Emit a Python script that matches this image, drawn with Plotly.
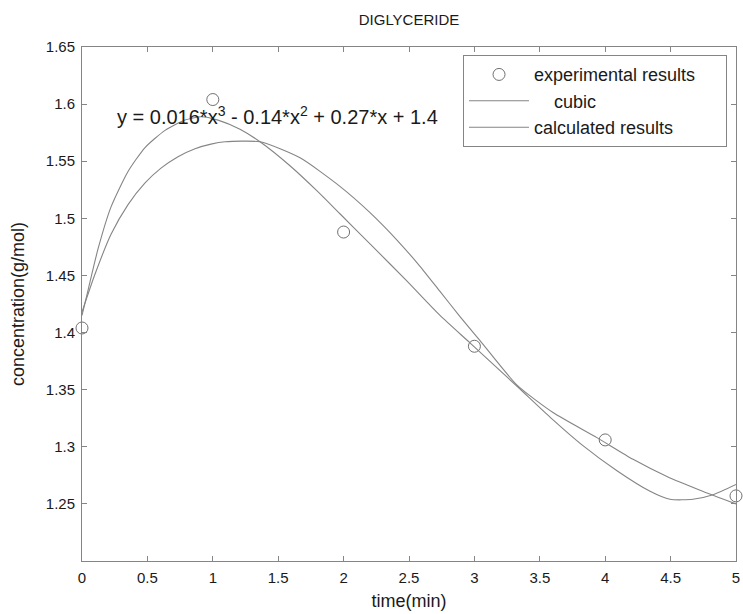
import plotly.graph_objects as go

# experimental points
time_exp = [0, 1, 2, 3, 4, 5]
conc_exp = [1.404, 1.604, 1.488, 1.388, 1.306, 1.257]

# cubic fit curve
time_cubic = [0, 0.046, 0.122, 0.222, 0.352, 0.482, 0.635, 0.787, 0.91, 1.04,
              1.208, 1.361, 1.59, 1.797, 1.972, 2.225, 2.485, 2.737, 2.966,
              3.326, 3.578, 3.83, 4.09, 4.343, 4.495, 4.671, 4.824, 5.0]
conc_cubic = [1.415, 1.437, 1.473, 1.510, 1.541, 1.562, 1.577, 1.586, 1.589, 1.586,
              1.578, 1.567, 1.546, 1.524, 1.504, 1.475, 1.445, 1.415, 1.391,
              1.353, 1.326, 1.301, 1.279, 1.261, 1.254, 1.254, 1.258, 1.267]

# calculated (model) curve
time_calc = [0, 0.099, 0.222, 0.352, 0.482, 0.604, 0.734, 0.864, 0.986, 1.093,
             1.361, 1.667, 1.972, 2.202, 2.408, 2.584, 2.737, 2.89, 3.043,
             3.326, 3.601, 3.937, 4.213, 4.472, 4.725, 5.0]
conc_calc = [1.418, 1.451, 1.486, 1.512, 1.531, 1.544, 1.554, 1.561, 1.565, 1.567,
             1.567, 1.553, 1.528, 1.505, 1.481, 1.458, 1.436, 1.414, 1.393,
             1.354, 1.330, 1.308, 1.289, 1.274, 1.262, 1.250]

x_ticks = [0, 0.5, 1, 1.5, 2, 2.5, 3, 3.5, 4, 4.5, 5]
y_ticks = [1.25, 1.3, 1.35, 1.4, 1.45, 1.5, 1.55, 1.6, 1.65]

font = "Liberation Sans, Arial, sans-serif"
gray = "#858585"
nb = "\u00a0"

fig = go.Figure()
fig.add_trace(go.Scatter(x=time_exp, y=conc_exp, mode="markers",
                         name="experimental results" + nb * 5,
                         marker=dict(symbol="circle-open", size=12, color="#707070", line=dict(width=1)),
                         cliponaxis=False, legendgroup="a"))
fig.add_trace(go.Scatter(x=time_cubic, y=conc_cubic, mode="lines", name=nb * 4 + "cubic",
                         line=dict(color=gray, width=1.1, shape="spline", smoothing=0.6),
                         legendgroup="b"))
fig.add_trace(go.Scatter(x=time_calc, y=conc_calc, mode="lines", name="calculated results",
                         line=dict(color=gray, width=1.1, shape="spline", smoothing=0.6),
                         legendgroup="c"))

fig.add_annotation(x=0.25, y=1.59, xref="x", yref="y", xanchor="left", yanchor="middle",
                   text="y = 0.016*x<sup>3</sup> - 0.14*x<sup>2</sup> + 0.27*x + 1.4",
                   showarrow=False, font=dict(size=20, color="#1a1a1a"))

axis_style = dict(showline=True, linecolor=gray, linewidth=1, mirror="ticks", ticks="inside",
                  ticklen=5, tickcolor=gray, showgrid=False, zeroline=False, automargin=False,
                  ticklabeloverflow="allow", ticklabelstandoff=3,
                  tickfont=dict(size=15, color="#1a1a1a"))

fig.update_xaxes(range=[0, 5], tickvals=x_ticks, ticktext=[f"{v:g}" for v in x_ticks],
                 title=dict(text="time(min)", font=dict(size=18, color="#1a1a1a"), standoff=9),
                 **axis_style)
fig.update_yaxes(range=[1.2, 1.65], tickvals=y_ticks, ticktext=[f"{v:g}" for v in y_ticks],
                 title=dict(text="concentration(g/mol)", font=dict(size=18, color="#1a1a1a"), standoff=16),
                 **axis_style)

fig.update_layout(
    width=743, height=614,
    margin=dict(l=82, r=7, t=47, b=53),
    paper_bgcolor="white", plot_bgcolor="white",
    font=dict(family=font, color="#1a1a1a"),
    title=dict(text="DIGLYCERIDE", x=0.5505, xanchor="center", y=0.968, yanchor="middle",
               font=dict(size=15, color="#1a1a1a")),
    legend=dict(x=0.5826, y=0.984, xanchor="left", yanchor="top", bgcolor="white",
                bordercolor=gray, borderwidth=1, font=dict(size=18, color="#1a1a1a"),
                itemwidth=60, tracegroupgap=0),
    showlegend=True,
)

# drop the default 8px body margin so the figure fills the window
fig.write_html("out.html", config={"displayModeBar": False},
               post_script="document.body.style.margin = '0';")
